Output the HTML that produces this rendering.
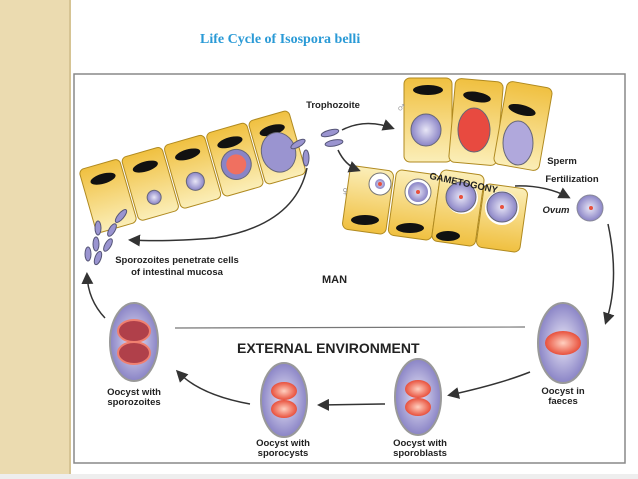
<!DOCTYPE html>
<html><head><style>
body{margin:0;width:638px;height:479px;overflow:hidden;background:#fff;font-family:"Liberation Sans",sans-serif;position:relative}
#strip{position:absolute;left:0;top:0;width:69px;height:479px;background:#ebdbb0;border-right:2px solid #d6c494}
#title{position:absolute;left:200px;top:32px;font-family:"Liberation Serif",serif;font-weight:bold;font-size:14px;color:#2a9ad6}
svg{position:absolute;left:0;top:0}
</style></head><body>
<div id="strip"></div>
<div id="title">Life Cycle of Isospora belli</div>
<svg width="638" height="479" font-family="Liberation Sans" font-weight="bold">
<defs>
<linearGradient id="y" x1="0" y1="0" x2="0" y2="1"><stop offset="0" stop-color="#f0c040"/><stop offset="1" stop-color="#fbeeb8"/></linearGradient>
<linearGradient id="y2" x1="0" y1="1" x2="0" y2="0"><stop offset="0" stop-color="#f0c040"/><stop offset="1" stop-color="#fbeeb8"/></linearGradient>
<radialGradient id="p"><stop offset="0" stop-color="#e8e6f6"/><stop offset="1" stop-color="#8a84c6"/></radialGradient>
<radialGradient id="r"><stop offset="0" stop-color="#ffd0c0"/><stop offset="1" stop-color="#e8503c"/></radialGradient>
<marker id="a" markerWidth="8" markerHeight="8" refX="6" refY="4" orient="auto"><path d="M0,0L8,4L0,8z" fill="#333"/></marker>
</defs>
<rect x="74" y="74" width="551" height="389" fill="none" stroke="#888" stroke-width="1.5"/>
<rect x="0" y="474" width="638" height="5" fill="#eee"/>
<!-- left cells -->
<g transform="translate(108,196) rotate(-16)" stroke="#b08a20" stroke-width="1" fill="url(#y)">
<rect x="-21" y="-33" width="42" height="66" rx="5"/>
<rect x="23" y="-33" width="42" height="66" rx="5"/>
<rect x="67" y="-33" width="42" height="66" rx="5"/>
<rect x="111" y="-33" width="42" height="66" rx="5"/>
<rect x="155" y="-33" width="42" height="66" rx="5"/>
<g fill="#111" stroke="none">
<ellipse cx="0" cy="-18" rx="13" ry="5"/><ellipse cx="44" cy="-18" rx="13" ry="5"/><ellipse cx="88" cy="-18" rx="13" ry="5"/><ellipse cx="132" cy="-18" rx="13" ry="5"/><ellipse cx="176" cy="-18" rx="13" ry="5"/>
</g>
<g stroke="#667">
<circle cx="44" cy="14" r="7" fill="url(#p)"/>
<circle cx="88" cy="10" r="9" fill="url(#p)"/>
<circle cx="132" cy="5" r="15" fill="#8a84c6"/>
<circle cx="132" cy="5" r="10" fill="#f07060" stroke="none"/>
<ellipse cx="176" cy="5" rx="17" ry="20" fill="#9a94d0"/>
</g>
</g>
<g fill="#9a94d0" stroke="#557"><ellipse cx="121" cy="216" rx="3" ry="8" transform="rotate(40 121 216)"/><ellipse cx="112" cy="230" rx="3" ry="7" transform="rotate(30 112 230)"/><ellipse cx="98" cy="228" rx="3" ry="7"/><ellipse cx="96" cy="244" rx="3" ry="7"/><ellipse cx="108" cy="245" rx="3" ry="7" transform="rotate(30 108 245)"/><ellipse cx="88" cy="254" rx="3" ry="7"/><ellipse cx="98" cy="258" rx="3" ry="7" transform="rotate(20 98 258)"/><ellipse cx="306" cy="158" rx="3" ry="8"/><ellipse cx="298" cy="144" rx="3" ry="8" transform="rotate(60 298 144)"/></g>
<!-- top right cells -->
<g stroke="#b08a20" fill="url(#y)"><rect x="404" y="78" width="48" height="84" rx="6"/><rect x="452" y="80" width="48" height="84" rx="6" transform="rotate(5 476 122)"/><rect x="500" y="84" width="46" height="84" rx="6" transform="rotate(10 523 126)"/></g>
<g fill="#111"><ellipse cx="428" cy="90" rx="15" ry="5"/><ellipse cx="477" cy="97" rx="14" ry="5" transform="rotate(10 477 97)"/><ellipse cx="522" cy="110" rx="14" ry="5" transform="rotate(15 522 110)"/></g>
<ellipse cx="426" cy="130" rx="15" ry="16" fill="url(#p)" stroke="#667"/>
<ellipse cx="474" cy="130" rx="16" ry="22" fill="#e84a40" stroke="#667"/>
<ellipse cx="518" cy="143" rx="15" ry="22" fill="#b0a8dc" stroke="#667"/>
<!-- bottom right cells -->
<g stroke="#b08a20" fill="url(#y2)"><rect x="346" y="168" width="44" height="64" rx="6" transform="rotate(8 368 200)"/><rect x="392" y="172" width="44" height="66" rx="6" transform="rotate(8 414 205)"/><rect x="436" y="172" width="44" height="72" rx="6" transform="rotate(8 458 208)"/><rect x="480" y="186" width="44" height="64" rx="6" transform="rotate(8 502 218)"/></g>
<g fill="#111"><ellipse cx="365" cy="220" rx="14" ry="5"/><ellipse cx="410" cy="228" rx="14" ry="5"/><ellipse cx="448" cy="236" rx="12" ry="5"/></g>
<circle cx="380" cy="184" r="11" fill="#fff" stroke="#777"/><circle cx="380" cy="184" r="5" fill="url(#p)"/>
<circle cx="418" cy="192" r="13" fill="#fff" stroke="#777"/><circle cx="418" cy="192" r="10" fill="url(#p)"/>
<circle cx="462" cy="198" r="16" fill="#fff"/><circle cx="461" cy="197" r="15" fill="url(#p)" stroke="#667"/>
<circle cx="502" cy="208" r="17" fill="#fff"/><circle cx="502" cy="207" r="15" fill="url(#p)" stroke="#667"/>
<g fill="#e8503c"><circle cx="380" cy="184" r="2"/><circle cx="418" cy="192" r="2"/><circle cx="461" cy="197" r="2"/><circle cx="502" cy="207" r="2"/></g>
<circle cx="590" cy="208" r="13" fill="url(#p)" stroke="#889"/><circle cx="591" cy="208" r="2" fill="#e8503c"/>
<!-- trophozoites -->
<ellipse cx="330" cy="133" rx="9" ry="3" fill="#9a94d0" stroke="#557" transform="rotate(-15 330 133)"/>
<ellipse cx="334" cy="143" rx="9" ry="3" fill="#9a94d0" stroke="#557" transform="rotate(-10 334 143)"/>
<!-- arrows -->
<g fill="none" stroke="#333" stroke-width="1.5">
<path d="M342,130 Q365,118 392,128" marker-end="url(#a)"/>
<path d="M338,150 Q345,165 358,170" marker-end="url(#a)"/>
<path d="M515,186 Q545,185 568,197" marker-end="url(#a)"/>
<path d="M608,224 Q620,280 606,322" marker-end="url(#a)"/>
<path d="M530,372 Q500,384 450,395" marker-end="url(#a)"/>
<path d="M385,404 L320,405" marker-end="url(#a)"/>
<path d="M250,404 Q200,395 178,372" marker-end="url(#a)"/>
<path d="M307,168 Q295,225 215,238 Q165,242 131,240" marker-end="url(#a)"/>
<path d="M105,318 Q88,300 87,275" marker-end="url(#a)"/>
</g>
<line x1="175" y1="328" x2="525" y2="327" stroke="#777" stroke-width="1.2"/>
<!-- oocysts -->
<ellipse cx="563" cy="343" rx="25" ry="40" fill="url(#p)" stroke="#999" stroke-width="2"/>
<ellipse cx="563" cy="343" rx="18" ry="12" fill="url(#r)"/>
<ellipse cx="418" cy="397" rx="23" ry="38" fill="url(#p)" stroke="#999" stroke-width="2"/>
<ellipse cx="418" cy="389" rx="13" ry="9" fill="url(#r)"/><ellipse cx="418" cy="407" rx="13" ry="9" fill="url(#r)"/>
<ellipse cx="284" cy="400" rx="23" ry="37" fill="url(#p)" stroke="#999" stroke-width="2"/>
<ellipse cx="284" cy="391" rx="13" ry="9" fill="url(#r)"/><ellipse cx="284" cy="409" rx="13" ry="9" fill="url(#r)"/>
<ellipse cx="134" cy="342" rx="24" ry="39" fill="url(#p)" stroke="#999" stroke-width="2"/>
<ellipse cx="134" cy="331" rx="16" ry="11" fill="#b0404a" stroke="#f08070" stroke-width="2"/><ellipse cx="134" cy="353" rx="16" ry="11" fill="#b0404a" stroke="#f08070" stroke-width="2"/>
<!-- labels -->
<g font-size="9.5" fill="#222" text-anchor="middle">
<text x="333" y="108">Trophozoite</text>
<text x="463" y="186" transform="rotate(12 463 186)">GAMETOGONY</text>
<text x="562" y="164">Sperm</text>
<text x="572" y="182">Fertilization</text>
<text x="556" y="213" font-style="italic">Ovum</text>
<text x="177" y="263">Sporozoites penetrate cells</text>
<text x="177" y="275">of intestinal mucosa</text>
<text x="563" y="394">Oocyst in</text><text x="563" y="404">faeces</text>
<text x="420" y="446">Oocyst with</text><text x="420" y="456">sporoblasts</text>
<text x="283" y="446">Oocyst with</text><text x="283" y="456">sporocysts</text>
<text x="134" y="395">Oocyst with</text><text x="134" y="405">sporozoites</text>
</g>
<text x="322" y="283" font-size="11" fill="#222">MAN</text>
<text x="237" y="353" font-size="14" fill="#222">EXTERNAL ENVIRONMENT</text>
<text x="396" y="112" font-size="14" fill="#888" font-weight="normal">♂</text>
<text x="340" y="196" font-size="14" fill="#888" font-weight="normal">♀</text>
</svg>
</body></html>
